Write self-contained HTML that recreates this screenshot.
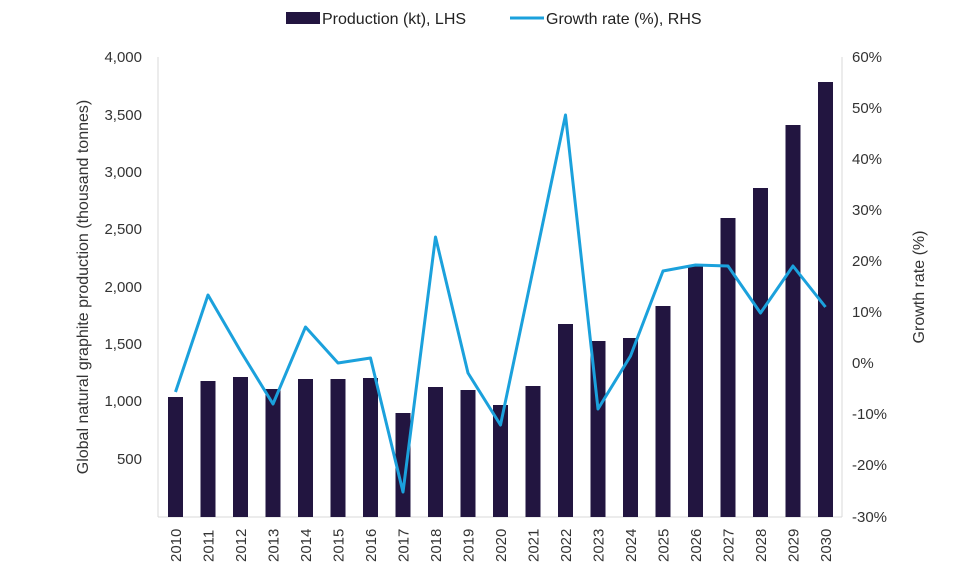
<!DOCTYPE html><html><head><style>body{margin:0;background:#fff}svg{display:block;font-family:"Liberation Sans",sans-serif}</style></head><body>
<svg width="976" height="581" xmlns="http://www.w3.org/2000/svg">
<rect width="976" height="581" fill="#fff"/>
<line x1="158" y1="57" x2="158" y2="517" stroke="#d9d9d9"/>
<line x1="158" y1="517" x2="842" y2="517" stroke="#d9d9d9"/>
<line x1="842" y1="57" x2="842" y2="517" stroke="#d9d9d9"/>
<g font-size="15" fill="#333" text-anchor="end">
<text x="142" y="62">4,000</text><text x="142" y="120">3,500</text><text x="142" y="177">3,000</text><text x="142" y="234">2,500</text><text x="142" y="292">2,000</text><text x="142" y="349">1,500</text><text x="142" y="406">1,000</text><text x="142" y="464">500</text>
</g>
<g font-size="15" fill="#333" text-anchor="start">
<text x="852" y="62">60%</text><text x="852" y="113">50%</text><text x="852" y="164">40%</text><text x="852" y="215">30%</text><text x="852" y="266">20%</text><text x="852" y="317">10%</text><text x="852" y="368">0%</text><text x="852" y="419">-10%</text><text x="852" y="470">-20%</text><text x="852" y="522">-30%</text>
</g>
<text transform="translate(88,287) rotate(-90)" font-size="16" fill="#333" text-anchor="middle">Global natural graphite production (thousand tonnes)</text>
<text transform="translate(924,287) rotate(-90)" font-size="16" fill="#333" text-anchor="middle">Growth rate (%)</text>
<g fill="#221540">
<rect x="168" y="397" width="15" height="120"/><rect x="200.5" y="381" width="15" height="136"/><rect x="233" y="377" width="15" height="140"/><rect x="265.5" y="389" width="15" height="128"/><rect x="298" y="379" width="15" height="138"/><rect x="330.5" y="379" width="15" height="138"/><rect x="363" y="378" width="15" height="139"/><rect x="395.5" y="413" width="15" height="104"/><rect x="428" y="387" width="15" height="130"/><rect x="460.5" y="390" width="15" height="127"/><rect x="493" y="405" width="15" height="112"/><rect x="525.5" y="386" width="15" height="131"/><rect x="558" y="324" width="15" height="193"/><rect x="590.5" y="341" width="15" height="176"/><rect x="623" y="338" width="15" height="179"/><rect x="655.5" y="306" width="15" height="211"/><rect x="688" y="266" width="15" height="251"/><rect x="720.5" y="218" width="15" height="299"/><rect x="753" y="188" width="15" height="329"/><rect x="785.5" y="125" width="15" height="392"/><rect x="818" y="82" width="15" height="435"/>
</g>
<polyline fill="none" stroke="#1ba1dc" stroke-width="3" stroke-linejoin="round" points="175.5,392 208,295 240.5,351 273,404 305.5,327 338,363 370.5,358 403,492 435.5,237 468,373 500.5,425 533,270 565.5,115 598,409 630.5,356 663,271 695.5,265 728,266 760.5,313 793,266 825.5,307"/>
<g font-size="15" fill="#333">
<text transform="translate(181,562) rotate(-90)">2010</text><text transform="translate(213.5,562) rotate(-90)">2011</text><text transform="translate(246,562) rotate(-90)">2012</text><text transform="translate(278.5,562) rotate(-90)">2013</text><text transform="translate(311,562) rotate(-90)">2014</text><text transform="translate(343.5,562) rotate(-90)">2015</text><text transform="translate(376,562) rotate(-90)">2016</text><text transform="translate(408.5,562) rotate(-90)">2017</text><text transform="translate(441,562) rotate(-90)">2018</text><text transform="translate(473.5,562) rotate(-90)">2019</text><text transform="translate(506,562) rotate(-90)">2020</text><text transform="translate(538.5,562) rotate(-90)">2021</text><text transform="translate(571,562) rotate(-90)">2022</text><text transform="translate(603.5,562) rotate(-90)">2023</text><text transform="translate(636,562) rotate(-90)">2024</text><text transform="translate(668.5,562) rotate(-90)">2025</text><text transform="translate(701,562) rotate(-90)">2026</text><text transform="translate(733.5,562) rotate(-90)">2027</text><text transform="translate(766,562) rotate(-90)">2028</text><text transform="translate(798.5,562) rotate(-90)">2029</text><text transform="translate(831,562) rotate(-90)">2030</text>
</g>
<rect x="286" y="12" width="34" height="12" fill="#221540"/>
<text x="322" y="24" font-size="16" fill="#222">Production (kt), LHS</text>
<line x1="510" y1="18" x2="544" y2="18" stroke="#1ba1dc" stroke-width="3"/>
<text x="546" y="24" font-size="16" fill="#222">Growth rate (%), RHS</text>
</svg>
</body></html>
